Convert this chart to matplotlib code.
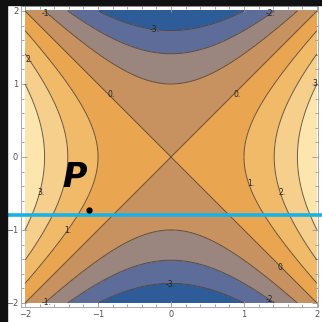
import numpy as np
import matplotlib
matplotlib.use('Agg')
import matplotlib.pyplot as plt
from matplotlib.colors import ListedColormap, BoundaryNorm

# f(x, y) = x^2 - y^2 on [-2, 2] x [-2, 2]
x_range = [-2.0, 2.0]
y_range = [-2.0, 2.0]
levels = [-4, -3, -2, -1, 0, 1, 2, 3, 4]
band_colors = ['#2e5c98', '#5e6c9a', '#9a857f', '#c89260', '#e9a550',
               '#f1ba69', '#f7cf8c', '#fde6ae']
tick_values = [-2, -1, 0, 1, 2]

# contour labels: (x, y, value)
label_x = [-1.7, -0.22, 1.37, -1.95, -0.82, 0.9, 1.99, -1.78,
           -1.41, 1.09, 1.52, 1.51, -0.01, 1.36, -1.7]
label_y = [1.97, 1.74, 1.96, 1.34, 0.85, 0.85, 1.01, -0.49,
           -1.01, -0.36, -0.49, -1.51, -1.74, -1.95, -1.99]
label_v = [-1, -3, -2, 2, 0, 0, 3, 3, 1, 1, 2, 0, -3, -2, -1]

# the hand-drawn marks
line_y = -0.79
dot_x, dot_y = -1.12, -0.73

xs = np.linspace(x_range[0], x_range[1], 400)
ys = np.linspace(y_range[0], y_range[1], 400)
X, Y = np.meshgrid(xs, ys)
Z = X ** 2 - Y ** 2

fig = plt.figure(figsize=(3.22, 3.22), dpi=100)
fig.patch.set_facecolor('white')
ax = fig.add_axes([21 / 322, 15 / 322, 297 / 322, 301 / 322])

cmap = ListedColormap(band_colors)
norm = BoundaryNorm(levels, cmap.N)
ax.contourf(X, Y, Z, levels=levels, cmap=cmap, norm=norm)
ax.contour(X, Y, Z, levels=levels[1:-1], colors='#4f4336',
           linewidths=0.7, linestyles='solid', alpha=0.85)

for lx, ly, lv in zip(label_x, label_y, label_v):
    ax.text(lx, ly, f"{lv}.", fontsize=5.5, color='#222222',
            ha='center', va='center', zorder=4)

ax.set_xlim(-2.055, 2.014)
ax.set_ylim(-2.055, 2.068)

ax.set_xticks(tick_values)
ax.set_yticks(tick_values)
ax.set_xticks(np.arange(-2, 2.01, 0.2), minor=True)
ax.set_yticks(np.arange(-2, 2.01, 0.2), minor=True)
ax.tick_params(which='both', direction='in', top=True, right=True,
               colors='#999999', labelcolor='#555555', labelsize=6,
               width=0.6, pad=2)
ax.tick_params(which='major', length=4)
ax.tick_params(which='minor', length=2)
for s in ax.spines.values():
    s.set_color('#aaaaaa')
    s.set_linewidth(0.7)

# cyan line across the whole picture
ax.axhline(line_y, xmin=-0.1, xmax=1.1, color='#19b2e3', lw=2.6,
           clip_on=False, zorder=5)
ax.plot(dot_x, dot_y, 'o', color='black', ms=3.5, zorder=6)
ax.text(-1.32, -0.28, 'P', fontsize=24, fontfamily='DejaVu Sans',
        fontweight='bold', fontstyle='italic', color='black',
        ha='center', va='center', zorder=6)

# dark strips at top and left of the screenshot
fig.add_artist(plt.Rectangle((0, 1 - 5 / 322), 1, 5 / 322,
                             transform=fig.transFigure, color='#111111'))
fig.add_artist(plt.Rectangle((0, 0), 7 / 322, 1,
                             transform=fig.transFigure, color='#111111'))

fig.savefig('out.png', dpi=100)
